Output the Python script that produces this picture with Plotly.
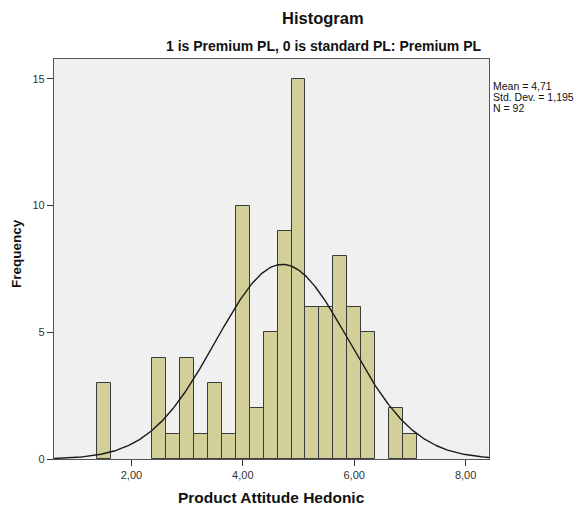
import numpy as np
import plotly.graph_objects as go

# Data
bin_centers = [1.5, 1.75, 2.0, 2.25, 2.5, 2.75, 3.0, 3.25, 3.5, 3.75, 4.0, 4.25, 4.5,
               4.75, 5.0, 5.25, 5.5, 5.75, 6.0, 6.25, 6.5, 6.75, 7.0]
counts = [3, 0, 0, 0, 4, 1, 4, 1, 3, 1, 10, 2, 5, 9, 15, 6, 6, 8, 6, 5, 0, 2, 1]
bin_width = 0.25
mean_val = 4.71
sd_val = 1.195
n_val = 92
stats_lines = ["Mean = 4,71", "Std. Dev. = 1,195", "N = 92"]
x_ticks = [2, 4, 6, 8]
x_tick_labels = ["2,00", "4,00", "6,00", "8,00"]
y_ticks = [0, 5, 10, 15]

x_range = [0.61, 8.42]
y_range = [0, 15.78]

bx = [c for c, n in zip(bin_centers, counts) if n > 0]
by = [n for n in counts if n > 0]

cx = np.linspace(x_range[0], x_range[1], 400)
cy = n_val * bin_width / (sd_val * np.sqrt(2 * np.pi)) * np.exp(-0.5 * ((cx - mean_val) / sd_val) ** 2)

fig = go.Figure()
fig.add_trace(go.Bar(x=bx, y=by, width=bin_width,
                     marker=dict(color="#D3CF98", line=dict(color="#3A3A3A", width=1)),
                     showlegend=False, hoverinfo="skip"))
fig.add_trace(go.Scatter(x=cx, y=cy, mode="lines", line=dict(color="#1a1a1a", width=1.4),
                         showlegend=False, hoverinfo="skip"))

font_family = "Liberation Sans, Arial, sans-serif"
PL, PR, PT, PB = 54, 489, 59, 459
PW, PH = PR - PL, PB - PT


def px_x(x):
    return (x - PL) / PW


def px_y(y):
    return (PB - y) / PH


annotations = [
    dict(text="<b>Histogram</b>", x=px_x(323), y=px_y(18), xanchor="center", yanchor="middle",
         font=dict(size=16.5, color="#111", family=font_family)),
    dict(text="<b>1 is Premium PL, 0 is standard PL: Premium PL</b>",
         x=px_x(324), y=px_y(46), xanchor="center", yanchor="middle",
         font=dict(size=14, color="#111", family=font_family)),
    dict(text="<b>Frequency</b>", x=px_x(16), y=px_y(254), xanchor="center", yanchor="middle",
         textangle=-90, font=dict(size=13.5, color="#111", family=font_family)),
    dict(text="<b>Product Attitude Hedonic</b>", x=px_x(271), y=px_y(497),
         xanchor="center", yanchor="middle",
         font=dict(size=15.5, color="#111", family=font_family)),
]
for i, line in enumerate(stats_lines):
    annotations.append(dict(text=line, x=px_x(491), y=px_y(86 + 11 * i), xanchor="left",
                            yanchor="middle", align="left",
                            font=dict(size=10.5, color="#111", family=font_family)))
for a in annotations:
    a.update(xref="paper", yref="paper", showarrow=False)

fig.update_layout(
    width=586, height=510,
    margin=dict(l=PL, r=586 - PR, t=PT, b=510 - PB),
    paper_bgcolor="white", plot_bgcolor="#F0F0F0",
    font=dict(family=font_family, color="#222"),
    bargap=0,
    xaxis=dict(range=x_range, tickvals=x_ticks, ticktext=x_tick_labels,
               ticks="outside", ticklen=6, tickcolor="#333", tickwidth=1,
               showgrid=False, zeroline=False, showline=True, mirror=True,
               linecolor="#555", linewidth=1.2,
               tickfont=dict(size=11, color="#333", family=font_family)),
    yaxis=dict(range=y_range, tickvals=y_ticks,
               ticks="outside", ticklen=6, tickcolor="#333", tickwidth=1,
               showgrid=False, zeroline=False, showline=True, mirror=True,
               linecolor="#555", linewidth=1.2,
               tickfont=dict(size=11, color="#333", family=font_family)),
    annotations=annotations,
)

fig.write_html("out.html")
